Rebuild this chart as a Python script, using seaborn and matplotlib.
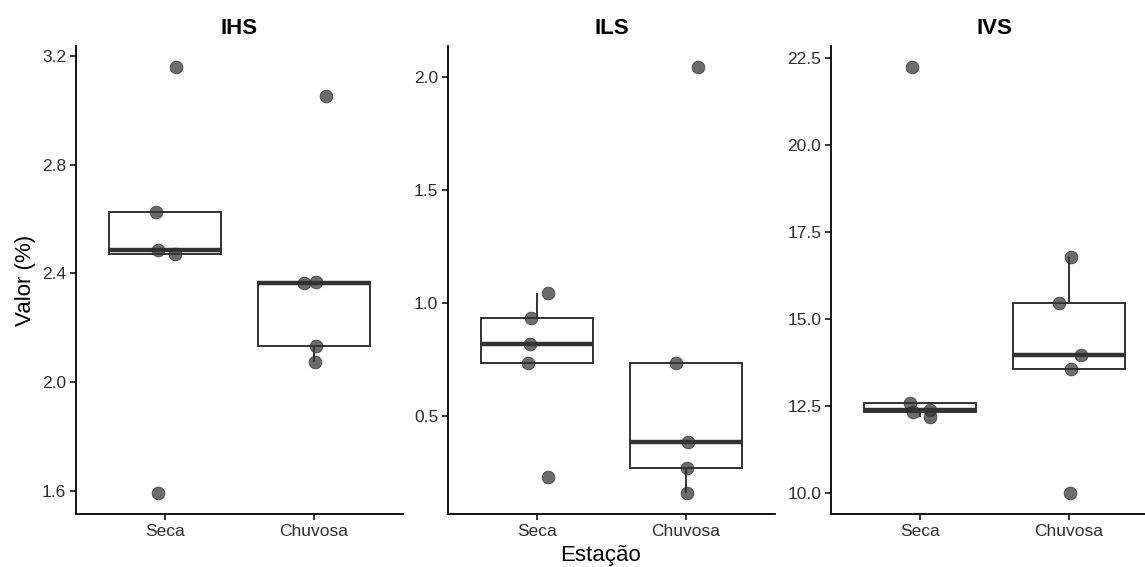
import numpy as np
import pandas as pd
import matplotlib
matplotlib.use("Agg")
import matplotlib.pyplot as plt
from matplotlib.ticker import FormatStrFormatter
import seaborn as sns

# valores
estacoes = ["Seca", "Chuvosa"]
indices = ["IHS", "ILS", "IVS"]

ihs_seca = [3.157, 2.626, 2.486, 2.471, 1.595]
ihs_chuvosa = [2.366, 2.368, 2.135, 2.076, 3.053]
ils_seca = [1.044, 0.933, 0.819, 0.737, 0.234]
ils_chuvosa = [0.737, 0.385, 0.270, 0.163, 2.041]
ivs_seca = [22.23, 12.60, 12.32, 12.39, 12.18]
ivs_chuvosa = [16.78, 15.45, 13.96, 13.57, 10.01]

y_ticks = {
    "IHS": [1.6, 2.0, 2.4, 2.8, 3.2],
    "ILS": [0.5, 1.0, 1.5, 2.0],
    "IVS": [10.0, 12.5, 15.0, 17.5, 20.0, 22.5],
}

# deslocamento horizontal do jitter (mesma ordem dos valores)
jitter = {
    ("IHS", "Seca"): [0.07, -0.065, -0.05, 0.065, -0.05],
    ("IHS", "Chuvosa"): [-0.067, 0.016, 0.016, 0.005, 0.079],
    ("ILS", "Seca"): [0.074, -0.04, -0.047, -0.063, 0.07],
    ("ILS", "Chuvosa"): [-0.067, 0.018, 0.005, 0.011, 0.081],
    ("IVS", "Seca"): [-0.052, -0.068, -0.045, 0.065, 0.065],
    ("IVS", "Chuvosa"): [0.018, -0.066, 0.08, 0.013, 0.009],
}

valores = {
    ("IHS", "Seca"): ihs_seca, ("IHS", "Chuvosa"): ihs_chuvosa,
    ("ILS", "Seca"): ils_seca, ("ILS", "Chuvosa"): ils_chuvosa,
    ("IVS", "Seca"): ivs_seca, ("IVS", "Chuvosa"): ivs_chuvosa,
}

rows = []
for (ind, est), vals in valores.items():
    for v, dx in zip(vals, jitter[(ind, est)]):
        rows.append({"indice": ind, "estacao": est, "valor": v,
                     "xpos": estacoes.index(est) + dx})
df = pd.DataFrame(rows)

sns.set_theme(style="ticks")
plt.rcParams["font.family"] = ["Liberation Sans", "DejaVu Sans"]

W, H = 1145, 567
fig = plt.figure(figsize=(W / 100, H / 100), dpi=100)

# posições dos painéis em pixels (esquerda, largura)
panel_left = [76, 448, 831]
panel_w = 327
top, bottom = 46, 514

line_col = "#333333"
for i, ind in enumerate(indices):
    ax = fig.add_axes([panel_left[i] / W, 1 - bottom / H,
                       panel_w / W, (bottom - top) / H])
    sub = df[df["indice"] == ind]
    sns.boxplot(data=sub, x="estacao", y="valor", order=estacoes, ax=ax,
                width=0.75, whis=1.5, showfliers=False,
                color="white", linewidth=1.4,
                boxprops=dict(facecolor="white", edgecolor=line_col),
                whiskerprops=dict(color=line_col, linewidth=1.4),
                capprops=dict(linewidth=0),
                medianprops=dict(color=line_col, linewidth=3.2))
    sns.scatterplot(data=sub, x="xpos", y="valor", ax=ax, s=85,
                    color="#333333", alpha=0.72, edgecolor="#2a2a2a",
                    linewidth=0.6, zorder=5, legend=False)

    vmin, vmax = sub["valor"].min(), sub["valor"].max()
    pad = 0.05 * (vmax - vmin)
    ax.set_ylim(vmin - pad, vmax + pad)
    ax.set_xlim(-0.6, 1.6)
    ax.set_xticks([0, 1])
    ax.set_xticklabels(estacoes)
    ax.set_yticks(y_ticks[ind])
    ax.yaxis.set_major_formatter(FormatStrFormatter("%.1f"))
    ax.set_xlabel("")
    ax.set_ylabel("")
    ax.set_title(ind, fontsize=16, fontweight="bold", pad=9, color="black")
    for side in ["top", "right"]:
        ax.spines[side].set_visible(False)
    for side in ["left", "bottom"]:
        ax.spines[side].set_linewidth(1.3)
        ax.spines[side].set_color("black")
    ax.tick_params(axis="both", labelsize=12.5, length=4, width=1.1,
                   color="black", labelcolor="#2e2e2e", pad=3)

fig.text(25 / W, 1 - 280 / H, "Valor (%)", rotation=90, ha="center",
         va="center", fontsize=16, color="black")
fig.text(600 / W, 1 - 555 / H, "Estação", ha="center", va="center",
         fontsize=16, color="black")

fig.savefig("out.png", dpi=100)
